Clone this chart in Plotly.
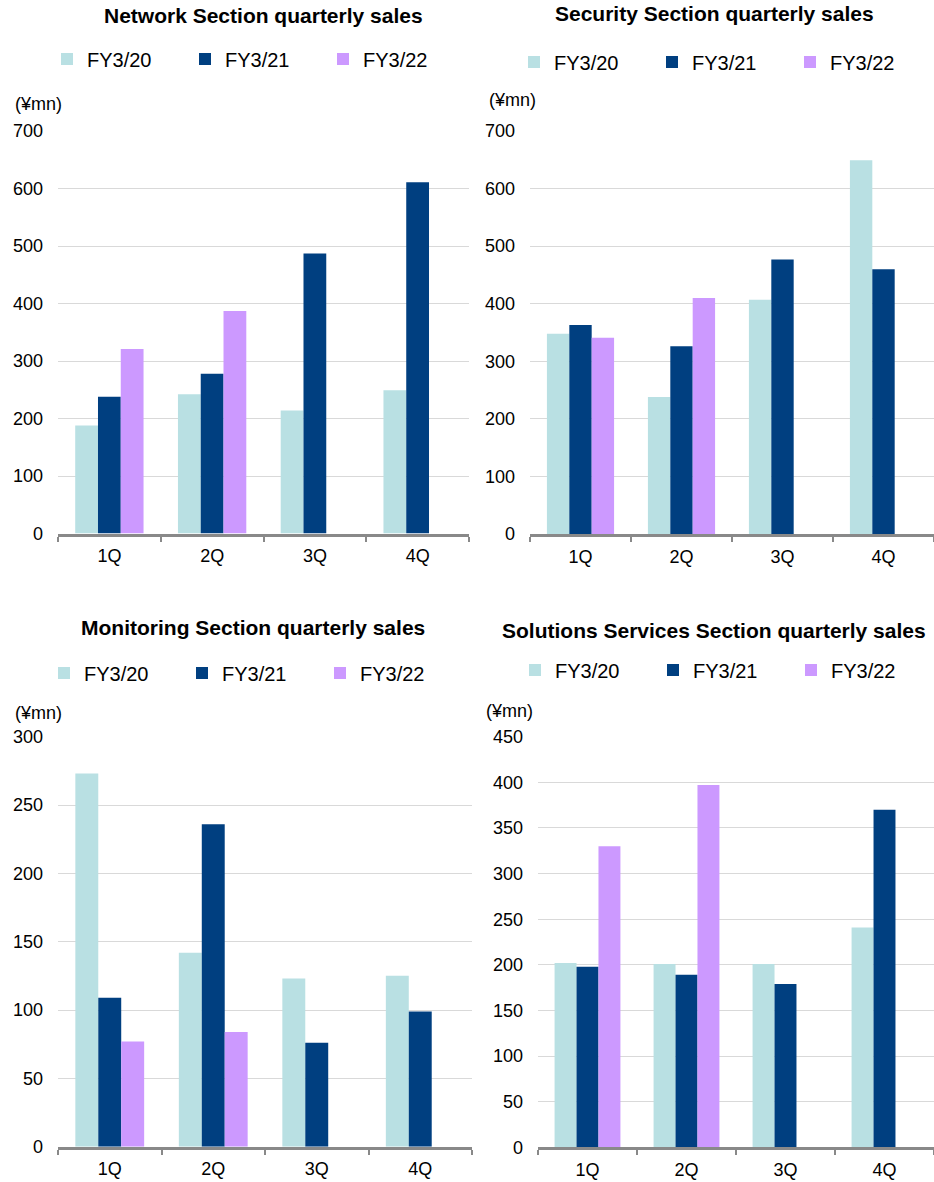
import plotly.graph_objects as go

W, H = 934, 1182

quarters = ["1Q", "2Q", "3Q", "4Q"]
series_names = ["FY3/20", "FY3/21", "FY3/22"]
series_colors = ["#b9e0e3", "#003f80", "#cc99ff"]

network_fy20 = [188, 242, 214, 249]
network_fy21 = [238, 278, 487, 611]
network_fy22 = [321, 387, None, None]

security_fy20 = [348, 238, 407, 649]
security_fy21 = [363, 326, 477, 460]
security_fy22 = [341, 410, None, None]

monitoring_fy20 = [273, 142, 123, 125]
monitoring_fy21 = [109, 236, 76, 99]
monitoring_fy22 = [77, 84, None, None]

solutions_fy20 = [202, 201, 201, 241]
solutions_fy21 = [198, 189, 179, 370]
solutions_fy22 = [330, 397, None, None]

titles = [
    "Network Section quarterly sales",
    "Security Section quarterly sales",
    "Monitoring Section quarterly sales",
    "Solutions Services Section quarterly sales",
]
panel_values = [
    [network_fy20, network_fy21, network_fy22],
    [security_fy20, security_fy21, security_fy22],
    [monitoring_fy20, monitoring_fy21, monitoring_fy22],
    [solutions_fy20, solutions_fy21, solutions_fy22],
]
y_max = [700, 700, 300, 450]
y_step = [100, 100, 50, 50]
unit_label = "(¥mn)"

# layout geometry in pixels (x0, x1, y_top, y_bottom)
plot_px = [
    (58, 469, 131, 533.5),
    (530, 934, 131, 534),
    (58, 472, 736.7, 1146.7),
    (538, 934, 736.7, 1147.3),
]
title_px = [(263, 16), (714, 14), (253, 627), (714, 630)]
legend_px = [(47, 59), (514, 62), (44, 673), (515, 670)]
unit_px = [(13, 104), (487, 100), (13, 713), (484, 711)]


def px_x(v):
    return v / W


def px_y(v):
    return 1 - v / H


fig = go.Figure()
font_family = "Liberation Sans, Arial, sans-serif"

for i in range(4):
    sfx = "" if i == 0 else str(i + 1)
    leg = "legend" if i == 0 else "legend" + str(i + 1)
    for s in range(3):
        fig.add_trace(go.Bar(
            x=quarters,
            y=panel_values[i][s],
            name=series_names[s],
            marker=dict(color=series_colors[s], line=dict(width=0)),
            xaxis="x" + sfx,
            yaxis="y" + sfx,
            legend=leg,
            showlegend=True,
        ))
    x0, x1, yt, yb = plot_px[i]
    fig.layout["xaxis" + sfx] = dict(
        domain=[px_x(x0), min(1.0, px_x(x1))],
        anchor="y" + sfx,
        automargin=False,
        showline=True, linecolor="#898989", linewidth=3,
        ticks="outside", tickson="boundaries", ticklen=5, tickwidth=2,
        tickcolor="#898989",
        showgrid=False,
        tickfont=dict(size=18, color="#000000", family=font_family),
        ticklabelstandoff=4,
    )
    fig.layout["yaxis" + sfx] = dict(
        domain=[px_y(yb), px_y(yt)],
        anchor="x" + sfx,
        automargin=False,
        range=[0, y_max[i]], dtick=y_step[i],
        showline=False, zeroline=False,
        showgrid=True, gridcolor="#d9d9d9", gridwidth=1,
        tickfont=dict(size=18, color="#000000", family=font_family),
        ticklabelstandoff=14,
    )
    lx, ly = legend_px[i]
    fig.layout[leg] = dict(
        orientation="h",
        x=px_x(lx), y=px_y(ly), xanchor="left", yanchor="middle",
        xref="paper", yref="paper",
        font=dict(size=20, color="#000000", family=font_family),
        entrywidth=93, entrywidthmode="pixels",
        bgcolor="rgba(0,0,0,0)", traceorder="normal",
    )
    tx, ty = title_px[i]
    fig.add_annotation(
        text="<b>" + titles[i] + "</b>", x=px_x(tx), y=px_y(ty),
        xref="paper", yref="paper", xanchor="center", yanchor="middle",
        showarrow=False, font=dict(size=21, color="#000000", family=font_family),
    )
    ux, uy = unit_px[i]
    fig.add_annotation(
        text=unit_label, x=px_x(ux), y=px_y(uy),
        xref="paper", yref="paper", xanchor="left", yanchor="middle",
        showarrow=False, font=dict(size=18, color="#000000", family=font_family),
    )

fig.update_layout(
    width=W, height=H, autosize=False,
    margin=dict(l=0, r=0, t=0, b=0, autoexpand=False),
    paper_bgcolor="#ffffff", plot_bgcolor="#ffffff",
    barmode="group", bargap=0.335, bargroupgap=0,
)

fig.write_html(
    "out.html",
    config={"displayModeBar": False},
    post_script="document.body.style.margin='0';document.body.style.overflow='hidden';",
)
